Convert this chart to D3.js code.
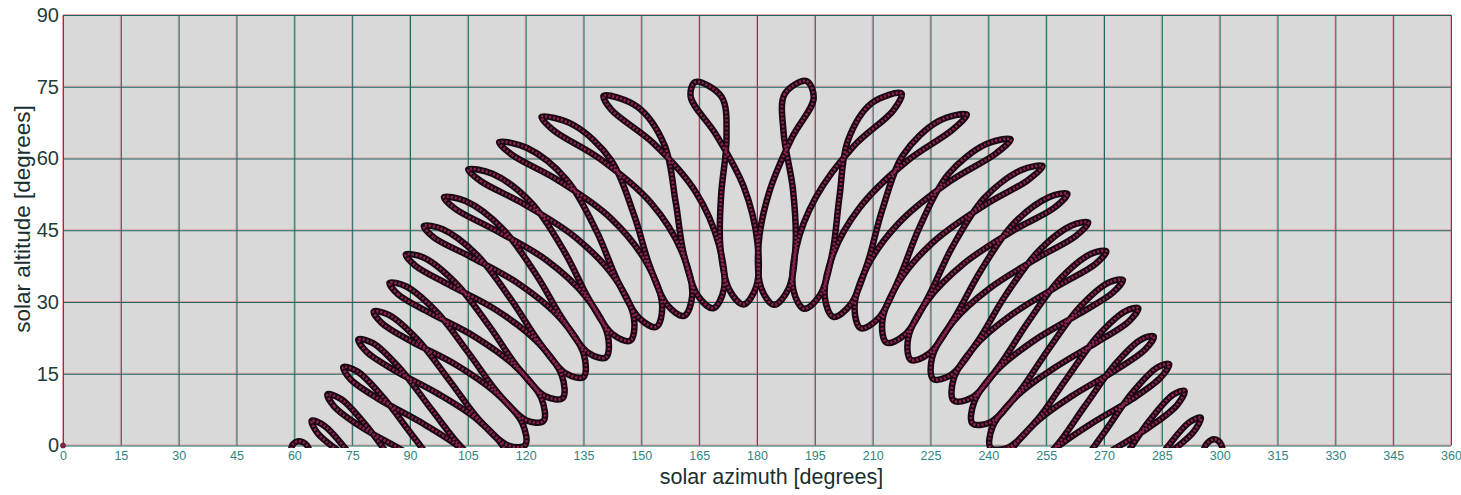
<!DOCTYPE html>
<html>
<head>
<meta charset="utf-8">
<script src="https://cdn.jsdelivr.net/npm/d3@7"></script>
<style>
  html, body { margin: 0; padding: 0; background: #ffffff; }
  svg { display: block; }
  text { font-family: "Liberation Sans", Arial, sans-serif; }
</style>
</head>
<body>
<svg id="chart" width="1461" height="495"></svg>
<script>
// Sun position [azimuth, altitude] in degrees at one clock time of day,
// one sample per month starting at the June solstice.
const t1145 = [[164.0,76.0],[162.8,72.9],[169.3,65.1],[176.6,54.0],[180.1,42.5],[179.8,33.2],[176.5,29.5],[172.8,32.6],[170.5,41.5],[170.7,52.4],[172.1,64.4],[170.8,72.9]];
const t1115 = [[140.2,73.1],[142.2,70.2],[153.1,63.2],[164.1,53.0],[170.1,42.0],[171.4,32.7],[168.7,28.7],[164.6,31.4],[161.0,40.1],[158.9,50.9],[156.0,62.8],[149.0,70.8]];
const t1045 = [[124.1,68.7],[127.2,65.9],[139.3,59.9],[152.5,50.7],[160.5,40.5],[163.2,31.4],[161.1,27.1],[156.7,29.4],[152.1,37.7],[148.1,48.2],[142.1,59.7],[132.4,67.0]];
const t1015 = [[113.1,63.4],[116.4,60.8],[128.3,55.5],[142.1,47.5],[151.5,38.0],[155.4,29.3],[153.9,24.8],[149.4,26.7],[143.8,34.5],[138.5,44.6],[130.7,55.5],[120.4,62.2]];
const t0945 = [[105.1,57.7],[108.3,55.3],[119.3,50.6],[133.1,43.4],[143.3,34.8],[148.1,26.5],[147.1,21.9],[142.5,23.3],[136.4,30.6],[130.2,40.3],[121.5,50.7],[111.4,56.8]];
const t0915 = [[98.8,51.9],[101.7,49.5],[111.9,45.1],[125.3,38.8],[135.8,30.9],[141.3,23.0],[140.8,18.4],[136.2,19.4],[129.7,26.3],[122.9,35.5],[113.9,45.4],[104.4,51.1]];
const t0845 = [[93.6,45.9],[96.2,43.5],[105.6,39.5],[118.4,33.7],[129.1,26.5],[135.1,19.0],[135.0,14.3],[130.4,15.1],[123.6,21.5],[116.4,30.3],[107.4,39.8],[98.5,45.2]];
const t0815 = [[88.9,39.9],[91.4,37.6],[100.1,33.6],[112.4,28.3],[123.0,21.7],[129.4,14.6],[129.6,9.9],[125.1,10.3],[118.0,16.3],[110.7,24.8],[101.8,34.0],[93.5,39.3]];
const t0745 = [[84.7,34.0],[86.9,31.6],[95.2,27.7],[106.9,22.7],[117.4,16.5],[124.1,9.8],[124.6,5.1],[120.1,5.3],[112.9,10.9],[105.4,19.1],[96.7,28.1],[88.9,33.3]];
const t0715 = [[80.6,28.0],[82.7,25.6],[90.5,21.7],[101.9,16.9],[112.3,11.0],[119.1,4.7],[119.9,0.1],[115.5,0.0],[108.0,5.3],[100.5,13.3],[92.0,22.1],[84.5,27.3]];
const t0645 = [[76.6,22.2],[78.6,19.7],[86.0,15.7],[97.1,10.9],[107.5,5.4],[114.5,-0.7],[115.5,-5.2],[111.1,-5.5],[103.5,-0.5],[95.8,7.3],[87.4,16.1],[80.4,21.4]];
const t0615 = [[72.7,16.4],[74.5,13.9],[81.7,9.8],[92.5,5.0],[102.9,-0.4],[110.2,-6.2],[111.4,-10.7],[106.8,-11.2],[99.0,-6.4],[91.3,1.4],[83.0,10.1],[76.3,15.5]];
const t0545 = [[68.6,10.7],[70.3,8.2],[77.3,3.9],[88.0,-1.0],[98.5,-6.3],[105.9,-11.9],[107.3,-16.4],[102.7,-17.0],[94.6,-12.3],[86.8,-4.6],[78.6,4.2],[72.1,9.7]];
const t0515 = [[64.5,5.2],[66.0,2.6],[72.8,-1.9],[83.4,-7.0],[94.0,-12.2],[101.8,-17.7],[103.4,-22.2],[98.6,-22.8],[90.2,-18.3],[82.2,-10.6],[74.2,-1.6],[67.8,4.1]];
const t0445 = [[61.0,0.9],[62.2,0.7],[63.3,0.0],[63.8,-1.5],[61.5,-2.5],[59.3,-1.0],[59.7,0.3]];

const t1215 = [[192.8,76.2],[187.2,73.5],[186.9,65.4],[189.3,53.7],[190.0,42.0],[188.2,32.8],[184.4,29.4],[181.1,32.9],[180.4,42.0],[183.1,52.8],[189.1,64.4],[194.7,72.6]];
const t1245 = [[217.5,73.6],[209.8,71.6],[203.6,63.8],[201.4,52.1],[199.6,40.5],[196.4,31.5],[192.2,28.6],[189.5,32.3],[190.2,41.4],[195.2,51.8],[205.1,62.6],[215.4,70.1]];
const t1315 = [[234.4,69.2],[227.1,67.8],[217.9,60.7],[212.5,49.3],[208.6,38.0],[204.2,29.4],[199.8,26.9],[197.6,30.9],[199.7,39.9],[206.6,49.7],[218.8,59.4],[230.7,66.0]];
const t1345 = [[245.8,64.0],[239.4,63.0],[229.5,56.6],[222.2,45.7],[216.8,34.8],[211.5,26.6],[206.9,24.5],[205.3,28.8],[208.6,37.4],[216.8,46.5],[230.0,55.2],[241.9,61.0]];
const t1415 = [[254.1,58.4],[248.6,57.6],[238.9,51.7],[230.6,41.4],[224.3,30.9],[218.4,23.2],[213.6,21.5],[212.5,25.9],[216.8,34.2],[225.8,42.6],[239.1,50.3],[250.3,55.5]];
const t1445 = [[260.5,52.6],[255.7,51.9],[246.6,46.4],[238.0,36.5],[231.0,26.4],[224.6,19.2],[219.9,17.9],[219.2,22.4],[224.2,30.3],[233.6,38.0],[246.6,45.0],[257.1,49.7]];
const t1515 = [[265.9,46.6],[261.6,46.0],[253.1,40.7],[244.4,31.3],[237.1,21.6],[230.4,14.8],[225.7,13.9],[225.4,18.3],[230.9,25.9],[240.4,32.9],[253.0,39.3],[262.7,43.8]];
const t1545 = [[270.6,40.6],[266.7,40.1],[258.7,34.9],[250.2,25.7],[242.6,16.4],[235.7,10.0],[231.0,9.4],[231.0,13.9],[236.9,21.1],[246.5,27.6],[258.6,33.6],[267.7,37.9]];
const t1615 = [[274.9,34.6],[271.3,34.1],[263.8,29.0],[255.5,20.0],[247.8,11.0],[240.6,4.9],[235.9,4.6],[236.3,9.0],[242.4,15.9],[252.0,22.0],[263.7,27.6],[272.2,31.9]];
const t1645 = [[278.9,28.7],[275.6,28.1],[268.5,23.0],[260.4,14.1],[252.6,5.3],[245.2,-0.4],[240.6,-0.5],[241.1,3.9],[247.6,10.5],[257.1,16.2],[268.4,21.7],[276.4,25.9]];
const t1715 = [[282.9,22.8],[279.7,22.2],[273.0,17.1],[265.0,8.2],[257.2,-0.5],[249.6,-5.9],[244.9,-5.8],[245.7,-1.5],[252.3,4.8],[261.8,10.4],[272.9,15.7],[280.6,20.0]];
const t1745 = [[286.9,17.0],[283.8,16.3],[277.4,11.1],[269.6,2.2],[261.6,-6.3],[253.9,-11.6],[249.1,-11.4],[250.1,-7.0],[256.9,-1.0],[266.4,4.4],[277.3,9.7],[284.7,14.2]];
const t1815 = [[290.9,11.4],[287.9,10.6],[281.8,5.2],[274.1,-3.8],[266.0,-12.3],[258.0,-17.4],[253.1,-17.0],[254.3,-12.7],[261.4,-6.8],[271.0,-1.6],[281.7,3.8],[288.9,8.4]];
const t1845 = [[295.1,5.8],[292.2,4.9],[286.2,-0.6],[278.7,-9.7],[270.5,-18.3],[262.1,-23.3],[257.1,-22.8],[258.4,-18.5],[265.8,-12.8],[275.5,-7.6],[286.2,-2.0],[293.2,2.8]];
const t1915 = [[298.4,1.3],[299.6,1.0],[300.4,0.2],[300.6,-1.5],[298.0,-2.5],[296.0,-1.0],[296.6,0.3]];

// Stray sample plotted at the origin
const originSample = [[0, 0]];

const azimuthTicks = [0,15,30,45,60,75,90,105,120,135,150,165,180,195,210,225,240,255,270,285,300,315,330,345,360];
const altitudeTicks = [0,15,30,45,60,75,90];

const analemmas = [
  t0445, t0515, t0545, t0615, t0645, t0715, t0745, t0815, t0845, t0915, t0945, t1015, t1045, t1115, t1145,
  t1215, t1245, t1315, t1345, t1415, t1445, t1515, t1545, t1615, t1645, t1715, t1745, t1815, t1845, t1915
];

const plot = { left: 63, right: 1451, top: 15, bottom: 445.5 };
const x = d3.scaleLinear().domain([0, 360]).range([plot.left, plot.right]);
const y = d3.scaleLinear().domain([0, 90]).range([plot.bottom, plot.top]);
const svg = d3.select("#chart");

// plot background
svg.append("rect")
  .attr("x", plot.left).attr("y", plot.top)
  .attr("width", plot.right - plot.left).attr("height", plot.bottom - plot.top)
  .attr("fill", "#d9d9d9");

// grid: each line is a teal rule with a faint red companion line
function grid(offset, colour, width) {
  const gx = svg.append("g")
    .attr("transform", `translate(${offset},${plot.bottom})`)
    .call(d3.axisBottom(x).tickValues(azimuthTicks).tickSize(-(plot.bottom - plot.top)).tickFormat(""));
  gx.select(".domain").remove();
  gx.selectAll("line").attr("stroke", colour).attr("stroke-width", width);
  const gy = svg.append("g")
    .attr("transform", `translate(${plot.left},${offset})`)
    .call(d3.axisLeft(y).tickValues(altitudeTicks).tickSize(-(plot.right - plot.left)).tickFormat(""));
  gy.select(".domain").remove();
  gy.selectAll("line").attr("stroke", colour).attr("stroke-width", width);
}
grid(-1, "#e39a9a", 0.9);
grid(0, "#1c6664", 1);

// clip the sun paths to the sky (altitude >= 0)
svg.append("clipPath").attr("id", "sky")
  .append("rect")
  .attr("x", plot.left).attr("y", plot.top)
  .attr("width", plot.right - plot.left).attr("height", plot.bottom - plot.top + 2.5);

const loopPath = d3.line()
  .x(d => x(d[0]))
  .y(d => y(d[1]))
  .curve(d3.curveCatmullRomClosed.alpha(0.5));

const paths = svg.append("g").attr("clip-path", "url(#sky)");
paths.selectAll("path.edge")
  .data(analemmas)
  .join("path")
  .attr("class", "edge")
  .attr("d", loopPath)
  .attr("fill", "none")
  .attr("stroke", "#1a0912")
  .attr("stroke-width", 6.5)
  .attr("stroke-linejoin", "round");
paths.selectAll("path.core")
  .data(analemmas)
  .join("path")
  .attr("class", "core")
  .attr("d", loopPath)
  .attr("fill", "none")
  .attr("stroke", "#8f2253")
  .attr("stroke-width", 2.6)
  .attr("stroke-dasharray", "2.2 1.8");

svg.append("g").selectAll("circle")
  .data(originSample)
  .join("circle")
  .attr("cx", d => x(d[0]))
  .attr("cy", d => y(d[1]))
  .attr("r", 2.6)
  .attr("fill", "#8e2454")
  .attr("stroke", "#3a1024")
  .attr("stroke-width", 0.6);

// tick labels
const ax = svg.append("g")
  .attr("transform", `translate(0,${plot.bottom})`)
  .call(d3.axisBottom(x).tickValues(azimuthTicks).tickSize(0).tickPadding(6));
ax.select(".domain").remove();
ax.selectAll("text")
  .attr("font-size", 12.5)
  .attr("font-family", "Liberation Sans, Arial, sans-serif")
  .attr("fill", "#2f8582");

const ay = svg.append("g")
  .attr("transform", `translate(${plot.left},0)`)
  .call(d3.axisLeft(y).tickValues(altitudeTicks).tickSize(0).tickPadding(4));
ay.select(".domain").remove();
ay.selectAll("text")
  .attr("font-size", 20)
  .attr("font-family", "Liberation Sans, Arial, sans-serif")
  .attr("fill", "#1d3d3c");

// axis titles
svg.append("text")
  .attr("x", 771.5).attr("y", 484)
  .attr("text-anchor", "middle")
  .attr("font-size", 21.5)
  .attr("fill", "#1a2f2f")
  .text("solar azimuth [degrees]");

svg.append("text")
  .attr("transform", "translate(30,219) rotate(-90)")
  .attr("text-anchor", "middle")
  .attr("font-size", 22.5)
  .attr("fill", "#1a2f2f")
  .text("solar altitude [degrees]");
</script>
</body>
</html>
